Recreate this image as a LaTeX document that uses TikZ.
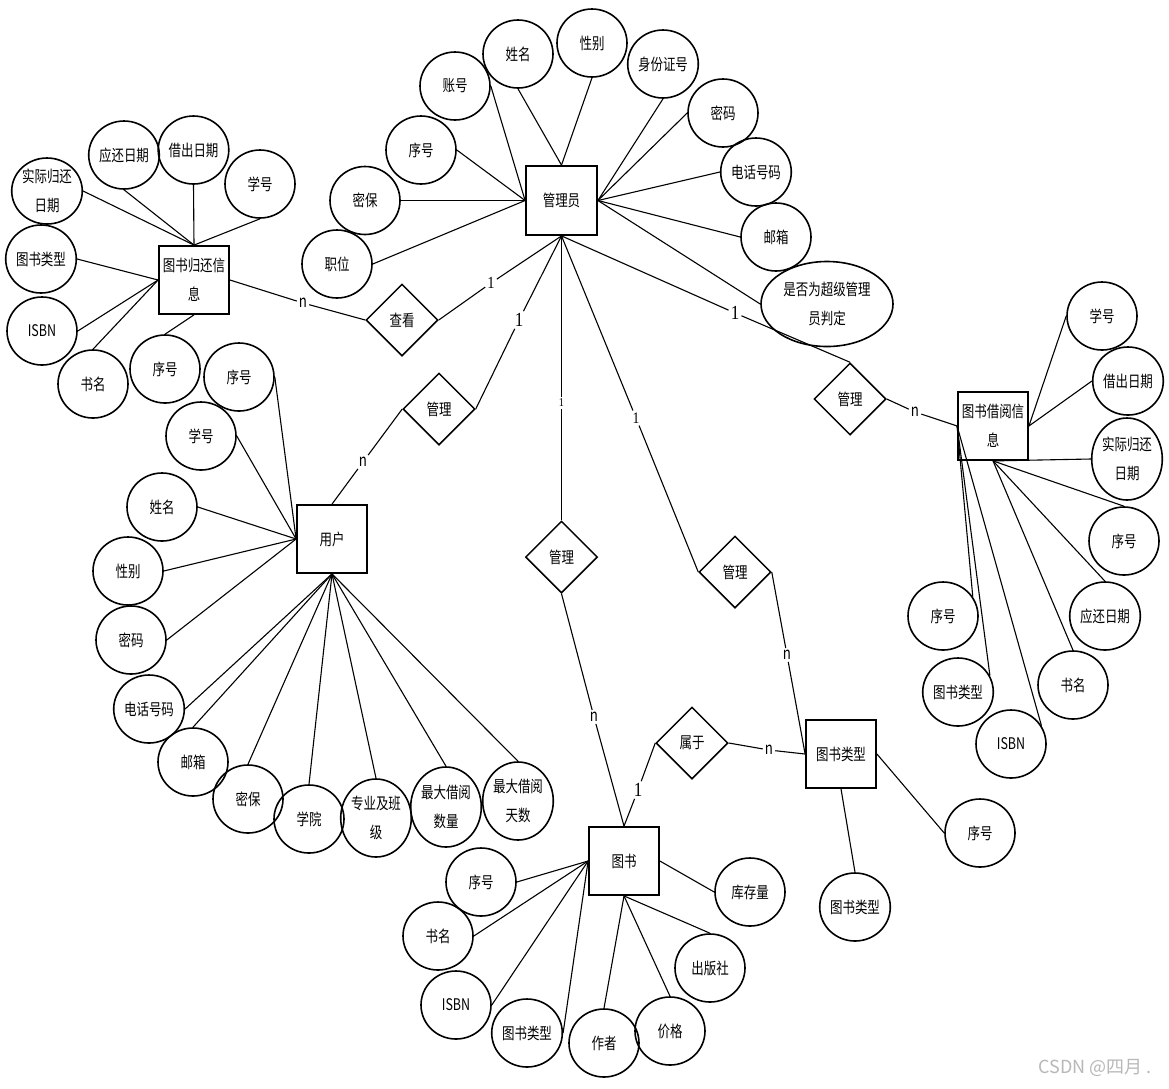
\documentclass[tikz,border=0pt]{standalone}
\usepackage{fontspec}
\setmainfont{Noto Sans CJK SC}[FakeStretch=0.78]
\newfontfamily\wmfont{Noto Sans CJK SC}
\newfontfamily\onefont{Liberation Serif}[FakeStretch=0.85]
\usetikzlibrary{shapes.geometric}
\newcommand\erfs{\fontsize{16}{29}\selectfont}
\begin{document}
\begin{tikzpicture}[x=1pt,y=-1pt,
 ent/.style={draw,line width=1.8pt,minimum width=70pt,minimum height=68pt,inner sep=0pt,align=center,font=\erfs},
 attr/.style={draw,ellipse,line width=1.6pt,minimum width=70pt,minimum height=68pt,inner sep=0pt,align=center,font=\erfs},
 rel/.style={draw,diamond,line width=1.5pt,minimum width=72pt,minimum height=72pt,inner sep=0pt,font=\erfs},
 conn/.style={line width=1.1pt},
 nl/.style={inner sep=2pt,font=\fontsize{17}{17}\selectfont},
 onel/.style={inner sep=2pt,font=\onefont\fontsize{#1}{#1}\selectfont},
]
\fill[white] (0,0) rectangle (1169,1088);
\useasboundingbox (0,0) rectangle (1169,1088);

% entities
\node[ent,minimum width=71pt,minimum height=69pt] (admin) at (561.5,200.5) {管理员};
\node[ent] (ghx) at (194,280) {图书归还信\\息};
\node[ent] (jyx) at (993,426) {图书借阅信\\息};
\node[ent] (usr) at (332,539) {用户};
\node[ent] (bk) at (624,861) {图书};
\node[ent] (btp) at (841,754) {图书类型};

% relationships
\node[rel] (rck) at (402,320) {查看};
\node[rel] (rgu) at (439,409) {管理};
\node[rel] (rgb) at (561.5,557) {管理};
\node[rel] (rgt) at (735,572) {管理};
\node[rel] (rgj) at (850,399) {管理};
\node[rel] (rsy) at (692,743) {属于};

% admin attributes
\node[attr] (a1) at (455,86) {账号};
\node[attr] (a2) at (518,54) {姓名};
\node[attr] (a3) at (592,43) {性别};
\node[attr] (a4) at (663,64) {身份证号};
\node[attr] (a5) at (723,113) {密码};
\node[attr] (a6) at (756,172) {电话号码};
\node[attr] (a7) at (776,237) {邮箱};
\node[attr,minimum width=132pt,minimum height=85pt] (a8) at (827,304) {是否为超级管理\\员判定};
\node[attr] (a9) at (421,150) {序号};
\node[attr] (a10) at (365,200.5) {密保};
\node[attr] (a11) at (337,264) {职位};

% return info attributes
\node[attr,minimum height=66pt] (g1) at (47,191) {实际归还\\日期};
\node[attr] (g2) at (124,155) {应还日期};
\node[attr] (g3) at (193.5,150) {借出日期};
\node[attr] (g4) at (260,184) {学号};
\node[attr] (g5) at (41,259) {图书类型};
\node[attr] (g6) at (42,331) {ISBN};
\node[attr] (g7) at (93,384) {书名};
\node[attr] (g8) at (165,369) {序号};

% borrow info attributes
\node[attr] (j1) at (1102,316) {学号};
\node[attr] (j2) at (1128,381) {借出日期};
\node[attr,minimum height=82pt] (j3) at (1127,459) {实际归还\\日期};
\node[attr] (j4) at (1124,541) {序号};
\node[attr] (j5) at (1105,616) {应还日期};
\node[attr] (j6) at (1073,685) {书名};
\node[attr] (j7) at (1011,744) {ISBN};
\node[attr] (j8) at (943,616) {序号};
\node[attr] (j9) at (958,692) {图书类型};

% user attributes
\node[attr] (u1) at (239,377) {序号};
\node[attr] (u2) at (201,436) {学号};
\node[attr] (u3) at (162,507) {姓名};
\node[attr] (u4) at (128,571) {性别};
\node[attr] (u5) at (131,640) {密码};
\node[attr] (u6) at (149,709) {电话号码};
\node[attr] (u7) at (193,762) {邮箱};
\node[attr] (u8) at (248,799) {密保};
\node[attr] (u9) at (309,819) {学院};
\node[attr,minimum height=78pt] (u10) at (376,818) {专业及班\\级};
\node[attr,minimum height=80pt] (u11) at (446,807) {最大借阅\\数量};
\node[attr,minimum height=78pt] (u12) at (518,801) {最大借阅\\天数};

% book attributes
\node[attr] (b1) at (481,882) {序号};
\node[attr] (b2) at (438,936) {书名};
\node[attr] (b3) at (456,1005) {ISBN};
\node[attr] (b4) at (527,1033) {图书类型};
\node[attr] (b5) at (604,1043) {作者};
\node[attr] (b6) at (670,1031) {价格};
\node[attr] (b7) at (710,968) {出版社};
\node[attr] (b8) at (750,892) {库存量};

% book type attributes
\node[attr] (t1) at (980,833) {序号};
\node[attr] (t2) at (855,907) {图书类型};

% attribute connectors
\draw[conn] (a1.east) -- (admin.west);
\draw[conn] (a2.south) -- (admin.north);
\draw[conn] (a3.south) -- (admin.north);
\draw[conn] (a9.east) -- (admin.west);
\draw[conn] (a10.east) -- (admin.west);
\draw[conn] (a11.east) -- (admin.west);
\draw[conn] (a4.south) -- (admin.east);
\draw[conn] (a5.west) -- (admin.east);
\draw[conn] (a6.west) -- (admin.east);
\draw[conn] (a7.west) -- (admin.east);
\draw[conn] (a8.west) -- (admin.east);

\draw[conn] (g1.east) -- (ghx.north);
\draw[conn] (g2.south) -- (ghx.north);
\draw[conn] (g3.south) -- (ghx.north);
\draw[conn] (g4.south) -- (ghx.north);
\draw[conn] (g5.east) -- (ghx.west);
\draw[conn] (g6.east) -- (ghx.west);
\draw[conn] (g7.north) -- (ghx.west);
\draw[conn] (g8.north) -- (ghx.south);

\draw[conn] (j1.west) -- (jyx.east);
\draw[conn] (j2.west) -- (jyx.east);
\draw[conn] (j3.west) -- (jyx.south);
\draw[conn] (j4.north) -- (jyx.south);
\draw[conn] (j5.north) -- (jyx.south);
\draw[conn] (j6.north) -- (jyx.south);
\draw[conn] (j7.31) -- (jyx.west);
\draw[conn] (j9.27) -- (jyx.west);
\draw[conn] (j8.33) -- (jyx.west);

\draw[conn] (u1.east) -- (usr.west);
\draw[conn] (u2.east) -- (usr.west);
\draw[conn] (u3.east) -- (usr.west);
\draw[conn] (u4.east) -- (usr.west);
\draw[conn] (u5.east) -- (usr.west);
\draw[conn] (u6.east) -- (usr.south);
\draw[conn] (u7.north) -- (usr.south);
\draw[conn] (u8.north) -- (usr.south);
\draw[conn] (u9.north) -- (usr.south);
\draw[conn] (u10.north) -- (usr.south);
\draw[conn] (u11.north) -- (usr.south);
\draw[conn] (u12.north) -- (usr.south);

\draw[conn] (b1.east) -- (bk.west);
\draw[conn] (b2.east) -- (bk.west);
\draw[conn] (b3.east) -- (bk.west);
\draw[conn] (b4.east) -- (bk.west);
\draw[conn] (b5.north) -- (bk.south);
\draw[conn] (b6.north) -- (bk.south);
\draw[conn] (b7.north) -- (bk.south);
\draw[conn] (b8.west) -- (bk.east);

\draw[conn] (t1.west) -- (btp.east);
\draw[conn] (t2.north) -- (btp.south);

% cardinality labels
\node[nl] (n1) at (303,303) {n};
\node[onel=17] (o1) at (491,283) {1};
\node[onel=20] (o2) at (519,320) {1};
\node[nl] (n2) at (363,462) {n};
\node[onel=12] (o3) at (561.5,403) {1};
\node[nl] (n3) at (594,717) {n};
\node[onel=16] (o4) at (636,418) {1};
\node[nl] (n4) at (787,655) {n};
\node[nl] (n5) at (769,750) {n};
\node[onel=20] (o5) at (638,790) {1};
\node[onel=20] (o6) at (735,313) {1};
\node[nl] (n6) at (915,412) {n};

% relationship connectors
\draw[conn] (ghx.east) -- (n1) -- (rck.west);
\draw[conn] (rck.east) -- (o1) -- (admin.south);
\draw[conn] (rgu.east) -- (o2) -- (admin.south);
\draw[conn] (rgu.west) -- (n2) -- (usr.north);
\draw[conn] (admin.south) -- (o3) -- (rgb.north);
\draw[conn] (rgb.south) -- (n3) -- (bk.north);
\draw[conn] (admin.south) -- (o4) -- (rgt.west);
\draw[conn] (rgt.east) -- (n4) -- (btp.west);
\draw[conn] (rsy.east) -- (n5) -- (btp.west);
\draw[conn] (rsy.west) -- (o5) -- (bk.north);
\draw[conn] (admin.south) -- (o6) -- (rgj.north);
\draw[conn] (rgj.east) -- (n6) -- (jyx.west);

% watermark
\node[text=black!28,font=\wmfont\fontsize{18}{18}\selectfont] (wm) at (1095,1068) {CSDN @四月 .};
\end{tikzpicture}
\end{document}
